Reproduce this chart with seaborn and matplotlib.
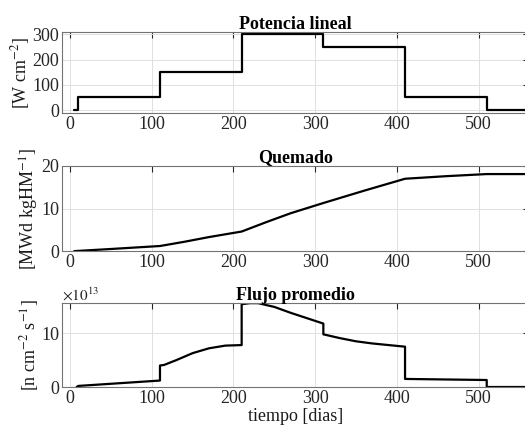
import numpy as np
import pandas as pd
import matplotlib
matplotlib.use('Agg')
import matplotlib.pyplot as plt
import seaborn as sns

# potencia lineal [W cm^-2] (escalonada)
t_pot = [5, 10, 10, 110, 110, 210, 210, 310, 310, 410, 410, 510, 510, 560]
pot = [0, 0, 50, 50, 150, 150, 300, 300, 250, 250, 50, 50, 0, 0]

# quemado [MWd kgHM^-1]
t_que = [5, 50, 110, 140, 170, 210, 240, 270, 310, 360, 410, 460, 510, 560]
que = [0.0, 0.5, 1.2, 2.2, 3.3, 4.6, 6.8, 8.9, 11.3, 14.2, 17.0, 17.6, 18.1, 18.1]

# flujo promedio [n cm^-2 s^-1] x 1e13
t_flu = [8, 10, 50, 110, 110, 115, 130, 150, 170, 190, 210, 210, 220, 230,
         250, 270, 290, 310, 310, 330, 350, 370, 390, 410, 410, 510, 510, 560]
flu = [0.0, 0.2, 0.6, 1.2, 4.0, 4.1, 5.0, 6.3, 7.2, 7.7, 7.8, 15.4, 15.6, 15.6,
       14.9, 13.8, 12.8, 11.8, 9.8, 9.1, 8.5, 8.1, 7.8, 7.5, 1.5, 1.3, 0.0, 0.0]

sns.set_style('whitegrid')
plt.rcParams['font.family'] = ['Liberation Serif', 'DejaVu Serif']
plt.rcParams['mathtext.fontset'] = 'stix'

fs = 13
fy = 13
fig = plt.figure(figsize=(5.25, 4.3), dpi=100)
ax1 = fig.add_axes([0.118, 0.737, 0.89, 0.188])
ax2 = fig.add_axes([0.118, 0.416, 0.89, 0.198])
ax3 = fig.add_axes([0.118, 0.100, 0.89, 0.195])

kw = dict(color='black', lw=1.6, sort=False, estimator=None)
sns.lineplot(x=t_pot, y=pot, ax=ax1, **kw)
sns.lineplot(x=t_que, y=que, ax=ax2, **kw)
sns.lineplot(x=t_flu, y=flu, ax=ax3, **kw)

tkw = dict(fontsize=fs, fontweight='bold', pad=2.5, color='black')
ax1.set_ylim(-12, 308)
ax1.set_yticks([0, 100, 200, 300])
ax1.set_title('Potencia lineal', **tkw)
ax1.set_ylabel('[W cm$^{-2}$]', fontsize=fy, labelpad=0, color='0.1')

ax2.set_ylim(0, 20)
ax2.set_yticks([0, 10, 20])
ax2.set_title('Quemado', **tkw)
ax2.set_ylabel('[MWd kgHM$^{-1}$]', fontsize=fy, labelpad=0, color='0.1')

ax3.set_ylim(0, 15.6)
ax3.set_yticks([0, 10])
ax3.set_title('Flujo promedio', **tkw)
ax3.set_ylabel('[n cm$^{-2}$ s$^{-1}$]', fontsize=fy, labelpad=0, color='0.1')
ax3.set_xlabel('tiempo [dias]', fontsize=fs, labelpad=1, color='0.1')
ax3.text(0.0, 1.0, r'$\times10^{13}$', transform=ax3.transAxes, fontsize=11,
         ha='left', va='bottom', color='0.15')

for ax in (ax1, ax2, ax3):
    ax.set_xlim(-10, 562)
    ax.set_xticks([0, 100, 200, 300, 400, 500])
    ax.grid(True, color='0.88', lw=0.7)
    ax.tick_params(direction='in', length=4, width=0.8, color='0.15',
                   labelsize=fs, pad=2, top=True, right=True,
                   labelcolor='0.15')
    for s in ax.spines.values():
        s.set_color('0.45')
        s.set_linewidth(0.8)
    if ax is not ax3:
        ax.set_xlabel('')

fig.savefig('out.png', dpi=100)
